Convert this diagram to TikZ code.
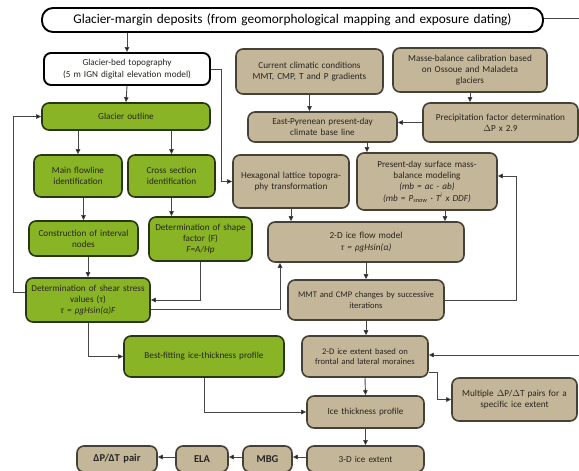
\documentclass[tikz,border=0pt]{standalone}
\usepackage{fontspec}
\setmainfont{Carlito}
\usetikzlibrary{arrows.meta}
\definecolor{tanfill}{RGB}{196,182,153}
\definecolor{tanline}{RGB}{70,65,55}
\definecolor{grfill}{RGB}{137,180,38}
\definecolor{grline}{RGB}{40,55,18}
\definecolor{txt}{RGB}{40,38,32}
\definecolor{conn}{RGB}{70,70,70}
\newcommand\bx[7]{%
  \pgfmathsetmacro\bw{#5-#3}\pgfmathsetmacro\bh{#6-#4}\pgfmathsetmacro\tw{#5-#3-2}%
  \node[#1,minimum width=\bw pt,minimum height=\bh pt,text width=\tw pt] (#2) at ({(#3+#5)/2},{(#4+#6)/2}) {#7};}
\tikzset{
  basebox/.style={rounded corners=7pt,line width=1.6pt,align=center,inner xsep=1pt,inner ysep=1pt,
    font=\fontsize{9.2}{11.3}\selectfont,text=txt},
  tanbox/.style={basebox,draw=tanline,fill=tanfill},
  grbox/.style={basebox,draw=grline,fill=grfill},
  whbox/.style={basebox,draw=black,fill=white,line width=1.9pt},
  boldbox/.style={tanbox,font=\fontsize{10.5}{12}\selectfont\bfseries,text=black!85},
  smalltxt/.style={font=\fontsize{8.6}{10.6}\selectfont},
  arr/.style={draw=conn,line width=0.9pt,-{Triangle[length=5pt,width=4.5pt,fill=black]}},
}
\begin{document}
\begin{tikzpicture}[x=1pt,y=-1pt]
\useasboundingbox[fill=white] (0,0) rectangle (579,471);
% boxes
\bx{whbox,rounded corners=11pt,font=\fontsize{13.3}{15}\selectfont,text=black}{top}{42}{8}{543}{32}{Glacier-margin deposits (from geomorphological mapping and exposure dating)}
\bx{whbox}{bed}{44}{53}{210}{85}{Glacier-bed topography\\(5 m IGN digital elevation model)}
\bx{tanbox}{climatic}{236}{49}{383}{94}{Current climatic conditions\\MMT, CMP, T and P gradients}
\bx{tanbox}{masse}{393}{48}{547}{92}{Masse-balance calibration based\\on Ossoue and Maladeta\\glaciers}
\bx{grbox}{outline}{42}{103}{210}{130}{Glacier outline}
\bx{tanbox}{east}{248}{112}{397}{142}{East-Pyrenean present-day\\climate base line}
\bx{tanbox}{precip}{423}{103}{578}{142}{Precipitation factor determination\\$\Delta$P x 2.9}
\bx{grbox}{mainflow}{34}{155}{122}{197}{Main flowline\\identification}
\bx{grbox}{cross}{128}{155}{215}{197}{Cross section\\identification}
\bx{tanbox}{hex}{233}{155}{349}{208}{Hexagonal lattice topogra-\\phy transformation}
\bx{tanbox}{present}{357}{153}{497}{210}{Present-day surface mass-\\balance modeling\\\textit{(mb = ac - ab)}\\\textit{(mb = P\textsubscript{snow} · T\textsuperscript{i} x DDF)}}
\bx{grbox}{constr}{29}{221}{138}{256}{Construction of interval\\nodes}
\bx{grbox}{shape}{149}{217}{252}{261}{Determination of shape\\factor (F)\\\textit{F=A/Hp}}
\bx{tanbox}{flow2d}{268}{222}{464}{262}{2-D ice flow model\\\textit{τ = ρgHsin(α)}}
\bx{grbox}{shear}{26}{278}{150}{322}{Determination of shear stress\\values (τ)\\\textit{τ = ρgHsin(α)F}}
\bx{tanbox,smalltxt}{mmt}{288}{280}{444}{320}{MMT and CMP changes by successive\\iterations}
\bx{grbox}{best}{124}{336}{284}{377}{Best-fitting ice-thickness profile}
\bx{tanbox,smalltxt}{extent2d}{302}{336}{428}{377}{2-D ice extent based on\\frontal and lateral moraines}
\bx{tanbox}{multiple}{452}{378}{577}{421}{Multiple $\Delta$P/$\Delta$T pairs for a\\specific ice extent}
\bx{tanbox}{thick}{307}{396}{424}{428}{Ice thickness profile}
\bx{tanbox}{ext3d}{307}{446}{424}{472}{3-D ice extent}
\bx{boldbox}{mbg}{243}{446}{292}{472}{MBG}
\bx{boldbox}{ela}{176}{446}{228}{472}{ELA}
\bx{boldbox}{pair}{77}{446}{157}{472}{ΔP/ΔT pair}
% connectors
\draw[arr] (top.south -| bed) -- (bed.north);
\draw[arr] (bed.south) -- (outline.north);
\draw[arr] (bed.east) -- ++(10,0) |- (hex.west);
\draw[arr] (outline.south -| mainflow) -- (mainflow.north);
\draw[arr] (outline.south -| cross) -- (cross.north);
\draw[arr] (climatic.south) -- (climatic.south |- east.north);
\draw[arr] (masse.south) -- (masse.south |- precip.north);
\draw[arr] (precip.west) -- (precip.west -| east.east);
\draw[arr] (east.south -| 367,0) -- (present.north -| 367,0);
\draw[arr] (constr.north |- mainflow.south) -- (constr.north);
\draw[arr] (cross.south) -- (cross.south |- shape.north);
\draw[arr] (shear.north |- constr.south) -- (shear.north);
\draw[arr] (shape.south) |- (shear.east);
\draw[arr] (shear.east |- 0,309) -| (flow2d.south -| 280,0);
\draw[arr] (shear.west |- 0,292) -- (13,292) |- (outline.west);
\draw[arr] (hex.south) -- (hex.south |- flow2d.north);
\draw[arr] (present.south -| 445,0) -- (flow2d.north -| 445,0);
\draw[arr] (flow2d.south) -- (mmt.north);
\draw[arr] (mmt.east) -- (mmt.east -| 516,0) |- (present.east |- 0,176);
\draw[arr] (mmt.south) -- (mmt.south |- extent2d.north);
\draw[arr] (shear.south) |- (best.west);
\draw[arr] (best.south) |- (thick.west);
\draw[arr] (top.east |- 0,18) -- (595,18) |- (extent2d.east |- 0,355);
\draw[arr] (extent2d.east |- 0,372) -- (437,372) |- (multiple.west);
\draw[arr] (extent2d.south) -- (thick.north);
\draw[arr] (thick.south) -- (ext3d.north);
\draw[arr] (ext3d.west |- 0,457) -- (mbg.east |- 0,457);
\draw[arr] (mbg.west |- 0,457) -- (ela.east |- 0,457);
\draw[arr] (ela.west |- 0,457) -- (pair.east |- 0,457);
\end{tikzpicture}
\end{document}
